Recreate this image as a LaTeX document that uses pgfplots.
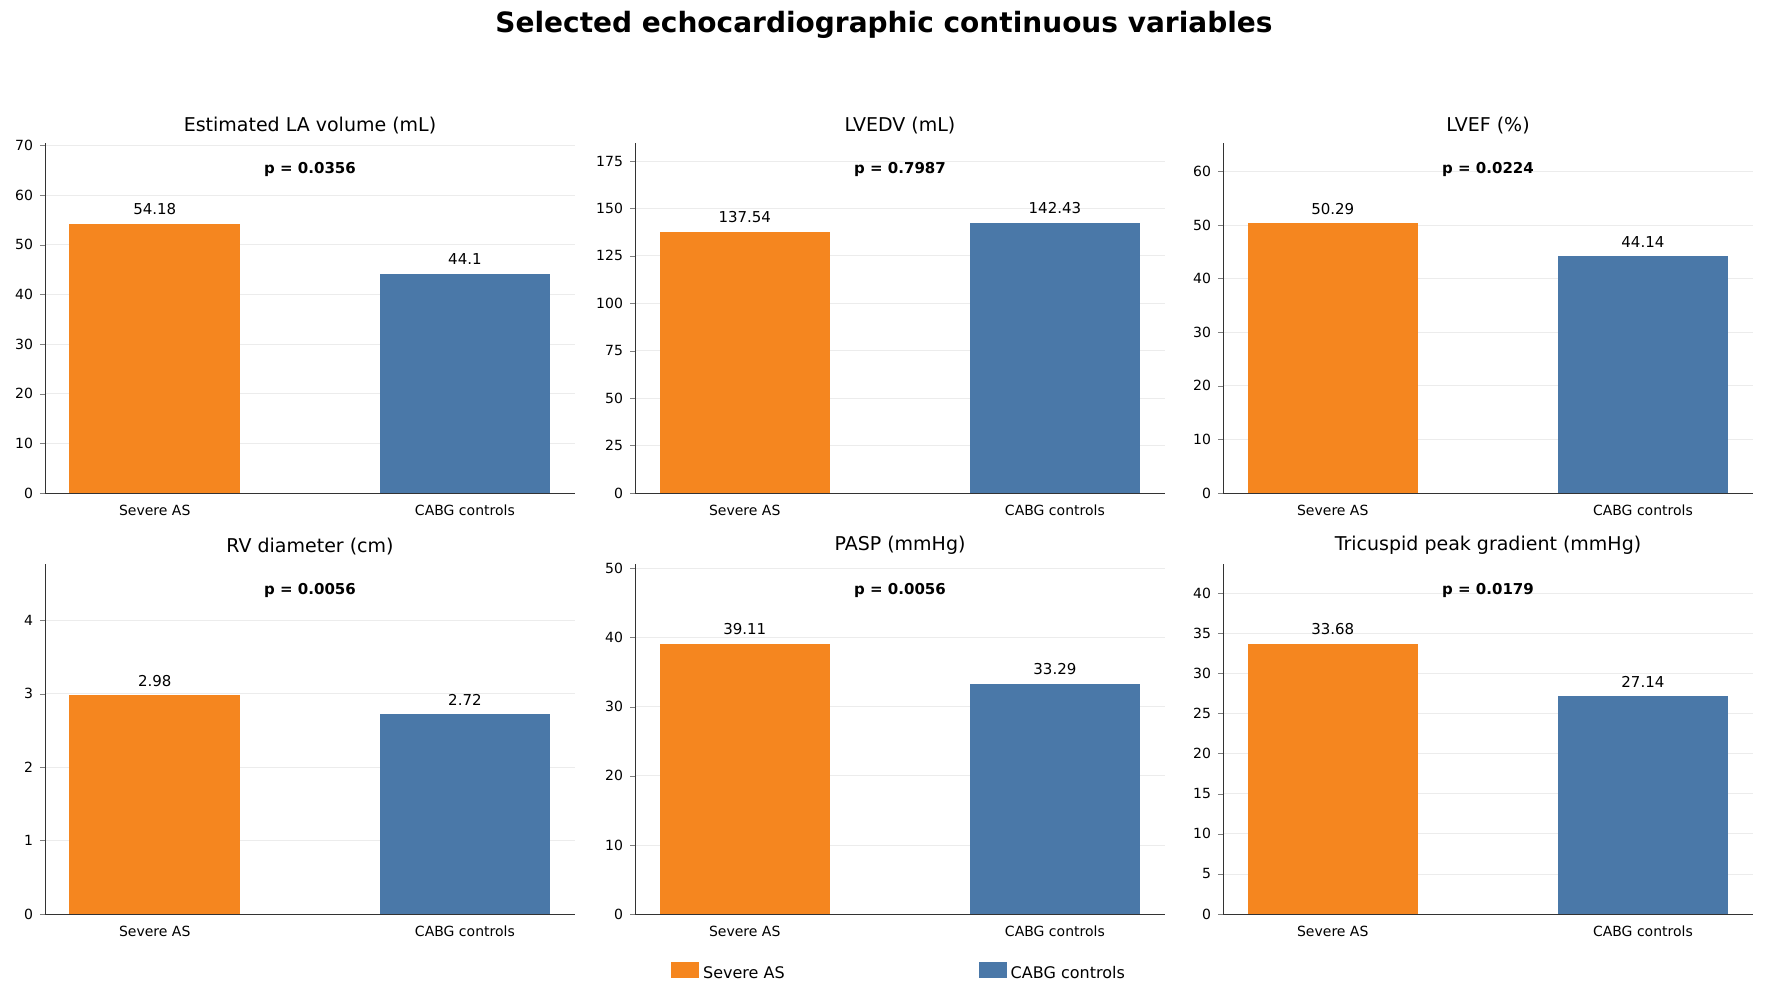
\documentclass[border=0pt]{standalone}
\usepackage{pgfplots}
\pgfplotsset{compat=1.18}
\usepackage{fontspec}
\setmainfont{DejaVu Sans}
\definecolor{cor}{HTML}{F5861F}
\definecolor{cbl}{HTML}{4A78A8}
\pgfplotsset{
 panel/.style={
  scale only axis, width=265pt, height=175pt,
  xmin=-0.354, xmax=1.355, ymin=0,
  axis x line*=bottom, axis y line*=left,
  xtick={0,1}, xticklabels={Severe AS,CABG controls},
  ticklabel style={font=\fontsize{7}{8}\selectfont},
  /pgf/number format/assume math mode=true,
  ymajorgrids, grid style={gray!15},
  tick align=outside, major tick length=2.5pt,
  x tick style={draw=none},
  title style={font=\fontsize{9.5}{11}\selectfont, yshift=-5pt},
  axis line style={black!80},
  ybar, bar width=0.55, bar shift=0pt,
  nodes near coords, every node near coord/.append style={font=\fontsize{7.5}{9}\selectfont, yshift=1pt},
  nodes near coords={\pgfmathprintnumber[assume math mode=true]{\pgfplotspointmeta}},
  point meta=explicit symbolic,
 },
}
\newcommand{\pval}[1]{\node[font=\bfseries\fontsize{7.5}{9}\selectfont] at (rel axis cs:0.5,0.925) {#1};}
\newcommand{\bars}[2]{%
 \addplot[fill=cor,draw=none] coordinates {(0,#1) [#1]};
 \addplot[fill=cbl,draw=none] coordinates {(1,#2) [#2]};}
\begin{document}
\begin{tikzpicture}
\path[use as bounding box] (0,0) rectangle (884pt,-500pt);
\node[font=\bfseries\fontsize{14}{16}\selectfont] at (442pt,-12.5pt) {Selected echocardiographic continuous variables};
\begin{axis}[panel, at={(22.5pt,-246.5pt)}, anchor=south west, ymax=70.5, ytick={0,10,...,70}, title={Estimated LA volume (mL)}]
\bars{54.18}{44.1}\pval{p = 0.0356}
\end{axis}
\begin{axis}[panel, at={(317.5pt,-246.5pt)}, anchor=south west, ymax=184.5, ytick={0,25,...,175}, title={LVEDV (mL)}]
\bars{137.54}{142.43}\pval{p = 0.7987}
\end{axis}
\begin{axis}[panel, at={(611.5pt,-246.5pt)}, anchor=south west, ymax=65.3, ytick={0,10,...,60}, title={LVEF (\%)}]
\bars{50.29}{44.14}\pval{p = 0.0224}
\end{axis}
\begin{axis}[panel, at={(22.5pt,-457pt)}, anchor=south west, ymax=4.77, ytick={0,1,...,4}, title={RV diameter (cm)}]
\bars{2.98}{2.72}\pval{p = 0.0056}
\end{axis}
\begin{axis}[panel, at={(317.5pt,-457pt)}, anchor=south west, ymax=50.65, ytick={0,10,...,50}, title={PASP (mmHg)},
 legend style={at={(0.5,-0.125)}, anchor=north, draw=none, fill=none, legend columns=2, font=\fontsize{8}{10}\selectfont, /tikz/every even column/.append style={column sep=95pt}},
 legend image code/.code={\fill[#1] (0pt,-2pt) rectangle (14pt,6pt);}]
\bars{39.11}{33.29}\pval{p = 0.0056}
\legend{Severe AS,CABG controls}
\end{axis}
\begin{axis}[panel, at={(611.5pt,-457pt)}, anchor=south west, ymax=43.65, ytick={0,5,...,40}, title={Tricuspid peak gradient (mmHg)}]
\bars{33.68}{27.14}\pval{p = 0.0179}
\end{axis}
\end{tikzpicture}
\end{document}
